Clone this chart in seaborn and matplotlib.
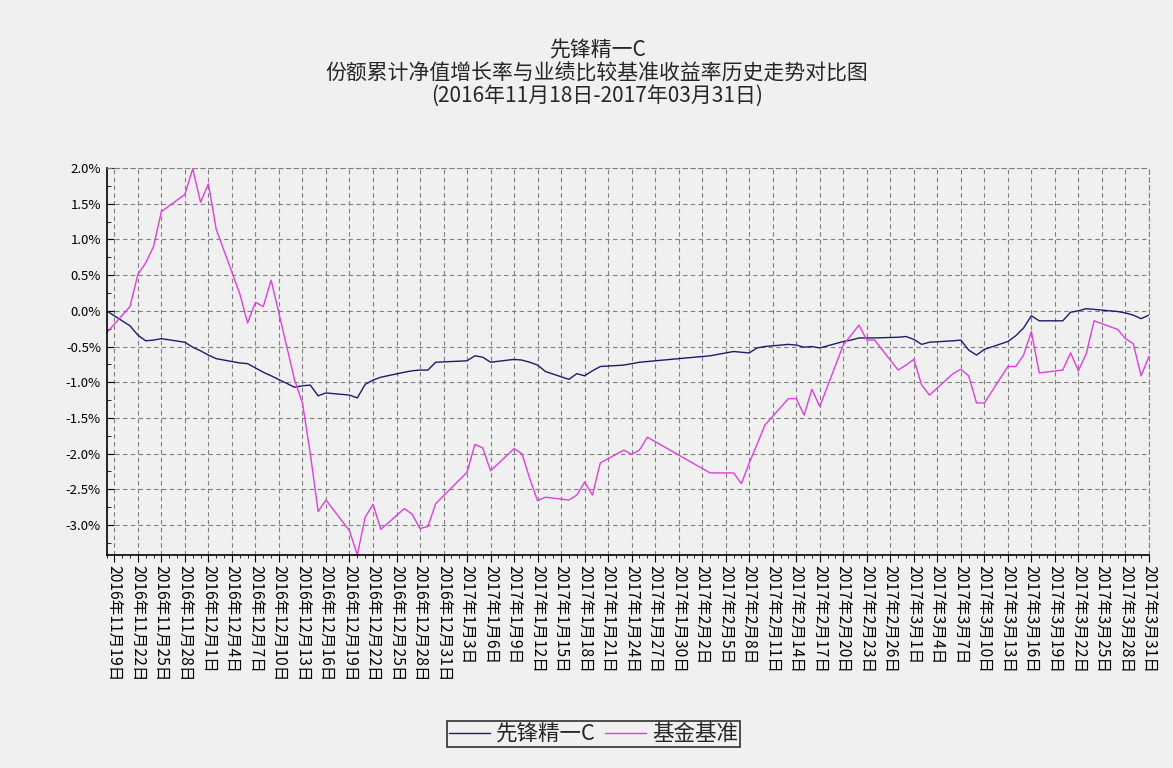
import matplotlib
matplotlib.use("Agg")
import matplotlib.pyplot as plt
import matplotlib.dates as mdates
from matplotlib.ticker import FixedLocator, MultipleLocator, FuncFormatter
import numpy as np
import pandas as pd
import seaborn as sns

# trading days shown in the chart
dates = [
    "2016-11-18", "2016-11-21", "2016-11-22", "2016-11-23", "2016-11-24", "2016-11-25",
    "2016-11-28", "2016-11-29", "2016-11-30",
    "2016-12-01", "2016-12-02", "2016-12-05", "2016-12-06", "2016-12-07", "2016-12-08",
    "2016-12-09", "2016-12-12", "2016-12-13", "2016-12-14", "2016-12-15", "2016-12-16",
    "2016-12-19", "2016-12-20", "2016-12-21", "2016-12-22", "2016-12-23", "2016-12-26",
    "2016-12-27", "2016-12-28", "2016-12-29", "2016-12-30",
    "2017-01-03", "2017-01-04", "2017-01-05", "2017-01-06", "2017-01-09", "2017-01-10",
    "2017-01-11", "2017-01-12", "2017-01-13", "2017-01-16", "2017-01-17", "2017-01-18",
    "2017-01-19", "2017-01-20", "2017-01-23", "2017-01-24", "2017-01-25", "2017-01-26",
    "2017-02-03", "2017-02-06", "2017-02-07", "2017-02-08", "2017-02-09", "2017-02-10",
    "2017-02-13", "2017-02-14", "2017-02-15", "2017-02-16", "2017-02-17", "2017-02-20",
    "2017-02-21", "2017-02-22", "2017-02-23", "2017-02-24", "2017-02-27", "2017-02-28",
    "2017-03-01", "2017-03-02", "2017-03-03", "2017-03-06", "2017-03-07", "2017-03-08",
    "2017-03-09", "2017-03-10", "2017-03-13", "2017-03-14", "2017-03-15", "2017-03-16",
    "2017-03-17", "2017-03-20", "2017-03-21", "2017-03-22", "2017-03-23", "2017-03-24",
    "2017-03-27", "2017-03-28", "2017-03-29", "2017-03-30", "2017-03-31",
]

# 份额累计净值增长率 (%)
fund = [
    0.00, -0.21, -0.34, -0.42, -0.41, -0.39, -0.44, -0.51, -0.56,
    -0.62, -0.67, -0.73, -0.74, -0.80, -0.86, -0.91, -1.07, -1.05, -1.04, -1.19, -1.15,
    -1.18, -1.22, -1.03, -0.97, -0.93, -0.86, -0.84, -0.83, -0.83, -0.72,
    -0.70, -0.63, -0.65, -0.72, -0.68, -0.69, -0.72, -0.76, -0.85, -0.96, -0.88, -0.91,
    -0.84, -0.78, -0.76, -0.74, -0.72, -0.71,
    -0.63, -0.57, -0.58, -0.59, -0.52, -0.50, -0.47, -0.48, -0.51, -0.50, -0.52, -0.43,
    -0.41, -0.38, -0.38, -0.38, -0.37, -0.36,
    -0.40, -0.47, -0.44, -0.42, -0.41, -0.55, -0.62, -0.54, -0.43, -0.35, -0.24, -0.07,
    -0.14, -0.14, -0.02, 0.00, 0.03, 0.02, -0.01, -0.03, -0.06, -0.11, -0.06,
]

# 业绩比较基准收益率 (%)
bench = [
    -0.31, 0.06, 0.51, 0.67, 0.90, 1.39, 1.63, 1.99, 1.52,
    1.78, 1.14, 0.24, -0.17, 0.12, 0.06, 0.43, -0.97, -1.29, -2.00, -2.81, -2.65,
    -3.08, -3.42, -2.89, -2.71, -3.06, -2.77, -2.85, -3.05, -3.02, -2.70,
    -2.26, -1.87, -1.92, -2.24, -1.93, -2.00, -2.35, -2.66, -2.61, -2.65, -2.58, -2.40,
    -2.58, -2.13, -1.95, -2.01, -1.95, -1.77,
    -2.27, -2.27, -2.42, -2.13, -1.87, -1.60, -1.23, -1.23, -1.46, -1.10, -1.34, -0.48,
    -0.34, -0.20, -0.41, -0.41, -0.83, -0.76,
    -0.68, -1.04, -1.18, -0.88, -0.82, -0.91, -1.29, -1.29, -0.78, -0.78, -0.62, -0.29,
    -0.87, -0.83, -0.59, -0.84, -0.60, -0.14, -0.26, -0.39, -0.46, -0.91, -0.64,
]

series_names = ["先锋精一C", "基金基准"]
series_colors = ["#1c1c6b", "#e03ee0"]
title = "先锋精一C\n份额累计净值增长率与业绩比较基准收益率历史走势对比图\n(2016年11月18日-2017年03月31日)"

df = pd.DataFrame({
    "date": pd.to_datetime(dates * 2),
    "value": fund + bench,
    "series": [series_names[0]] * len(dates) + [series_names[1]] * len(dates),
})

bg = "#f0f0f0"
sns.set_theme(style="ticks")
plt.rcParams["font.family"] = ["Noto Sans CJK SC", "DejaVu Sans"]
plt.rcParams["axes.unicode_minus"] = False

fig = plt.figure(figsize=(11.73, 7.68), dpi=100, facecolor=bg)
ax = fig.add_axes([0.0908, 0.2773, 0.9795 - 0.0908, 0.78125 - 0.2773])
ax.set_facecolor(bg)

sns.lineplot(data=df, x="date", y="value", hue="series", hue_order=series_names,
             palette=series_colors, linewidth=1.0, ax=ax)

start, end = pd.Timestamp("2016-11-18"), pd.Timestamp("2017-03-31")
ax.set_xlim(start, end)
ax.set_ylim(-3.42, 2.0)

major_days = pd.date_range("2016-11-19", "2017-03-31", freq="3D")
ax.xaxis.set_major_locator(FixedLocator(mdates.date2num(major_days)))
ax.xaxis.set_minor_locator(mdates.DayLocator())
ax.set_xticklabels([f"{d.year}年{d.month}月{d.day}日" for d in major_days],
                   rotation=270, ha="center", va="top", fontsize=11.3)

ax.yaxis.set_major_locator(MultipleLocator(0.5))
ax.yaxis.set_minor_locator(MultipleLocator(0.25))
ax.yaxis.set_major_formatter(FuncFormatter(lambda v, p: f"{v:.1f}%"))
for lab in ax.get_yticklabels():
    lab.set_fontsize(9.5)

ax.tick_params(axis="x", which="major", direction="out", length=5, width=0.8, pad=2, colors="black")
ax.tick_params(axis="x", which="minor", direction="out", length=2.5, width=0.6, colors="black")
ax.tick_params(axis="y", which="major", direction="in", length=5, width=0.8, pad=4, colors="black")
ax.tick_params(axis="y", which="minor", direction="in", length=3, width=0.6, colors="black")

ax.grid(True, which="major", linestyle=(0, (4, 3)), color="#808080", linewidth=0.8)
for side in ["left", "bottom"]:
    ax.spines[side].set_color("black")
    ax.spines[side].set_linewidth(1.2)
for side in ["top", "right"]:
    ax.spines[side].set_color("#808080")
    ax.spines[side].set_linestyle((0, (4, 3)))
    ax.spines[side].set_linewidth(0.8)

ax.set_xlabel("")
ax.set_ylabel("")

fig.text(0.509, 0.948, title, ha="center", va="top", fontsize=15, linespacing=1.02)

handles, labels = ax.get_legend_handles_labels()
ax.get_legend().remove()
leg = fig.legend(handles, labels, loc="center", bbox_to_anchor=(0.506, 0.044), ncol=2,
                 fontsize=15.5, frameon=True, fancybox=False, handlelength=1.9,
                 handletextpad=0.3, columnspacing=0.4, borderpad=0.1)
leg.get_frame().set_edgecolor("black")
leg.get_frame().set_facecolor(bg)
leg.get_frame().set_linewidth(1.2)

fig.savefig("out.png", dpi=100, facecolor=bg)
